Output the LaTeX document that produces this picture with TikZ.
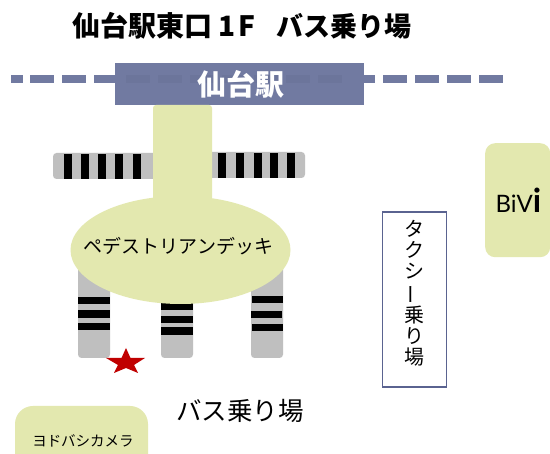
\documentclass[tikz,border=0pt]{standalone}
\usepackage{fontspec}
\usepackage{graphicx}
\setmainfont{Noto Sans CJK JP}
\newfontfamily\latinf{Lato}
\definecolor{deck}{HTML}{E3E8AF}
\definecolor{stn}{HTML}{717AA1}
\definecolor{walk}{HTML}{BFBFBF}
\definecolor{taxiline}{HTML}{5A6390}
\definecolor{starred}{HTML}{C00000}
\tikzset{
  deckfill/.style={fill=deck,draw=none},
  walkfill/.style={fill=walk,draw=none,rounded corners=3.5pt},
  stripe/.style={fill=black,draw=none},
  dashbar/.style={fill=stn,draw=none},
  jp/.style={inner sep=0pt,text=black}
}
\begin{document}
\begin{tikzpicture}[x=1pt,y=-1pt]
\useasboundingbox (0,0) rectangle (550,454);
\fill[white] (0,0) rectangle (550,454);
% rail dashes
\fill[dashbar] (11,75) rectangle (23,83);
\foreach \x in {30,62,94,351,383,415,447,479}{\fill[dashbar] (\x,75) rectangle (\x+24,83);}
% station
\node[fill=stn,minimum width=249pt,minimum height=42pt,inner sep=0pt,anchor=north west] (station) at (115,63) {};
\foreach \x in {126,158,190,222,254,286,318}{\fill[stn!96!black] (\x,75) rectangle (\x+24,83);}
\node[jp,text=white,font=\fontsize{29}{29}\selectfont\bfseries] (stationlabel) at (240.5,84) {仙台駅};
% crosswalks, upper
\fill[walkfill] (53,153) rectangle (160,179);
\foreach \x in {64,81,98,115,133}{\fill[stripe] (\x,154) rectangle (\x+8,179);}
\fill[walkfill] (205,152) rectangle (305,178);
\foreach \x in {218,236,254,270,287}{\fill[stripe] (\x,153) rectangle (\x+8,178);}
% crosswalks, lower
\fill[walkfill] (78,255) rectangle (110,358);
\fill[stripe] (78,297) rectangle (110,304);
\fill[stripe] (78,310) rectangle (110,318);
\fill[stripe] (78,323) rectangle (110,330);
\fill[walkfill] (161,285) rectangle (193,358);
\fill[stripe] (161,302) rectangle (193,310);
\fill[stripe] (161,316) rectangle (193,323);
\fill[stripe] (161,327) rectangle (193,335);
\fill[walkfill] (251,255) rectangle (283,358);
\fill[stripe] (252,296) rectangle (283,303);
\fill[stripe] (251,311) rectangle (282,318);
\fill[stripe] (252,324) rectangle (283,331);
% deck
\fill[deckfill,rounded corners=3pt] (153,105) rectangle (212,215);
\fill[deckfill] (180.5,250) ellipse [x radius=110,y radius=54];
\node[jp,font=\fontsize{19}{19}\selectfont] (decklabel) at (178.5,246) {ペデストリアンデッキ};
% star
\fill[starred] (126,348) -- (130.5,358) -- (145,358) -- (134,365) -- (138,373) -- (126,368) -- (114,373) -- (118,365) -- (106,358) -- (121.5,358) -- cycle;
% title
\node[jp,anchor=west,font=\fontsize{28}{28}\selectfont\bfseries] (title) at (72,26) {仙台駅東口\hspace{6pt}1\hspace{3pt}F\hspace{21pt}{\fontsize{27}{27}\selectfont バス乗り場}};
\node[jp,font=\fontsize{25.5}{25.5}\selectfont] (buslabel) at (240,411) {バス乗り場};
% Yodobashi
\fill[deckfill,rounded corners=18pt] (15,406) rectangle (148,480);
\node[jp,font=\fontsize{14.5}{14.5}\selectfont] (yodo) at (83,441) {ヨドバシカメラ};
% BiVi
\node[deckfill,rounded corners=10pt,minimum width=65pt,minimum height=114pt,inner sep=0pt,anchor=north west] (bivi) at (485,143) {};
\node[jp,font=\latinf,anchor=base west] (bivilabel) at (495.5,213) {\fontsize{24}{24}\selectfont BiV\fontsize{33}{33}\selectfont\bfseries i};
% taxi
\node[draw=taxiline,line width=1.8pt,minimum width=64pt,minimum height=175pt,inner sep=0pt,anchor=north west] (taxi) at (381.5,211.5) {};
\node[jp,align=center,font=\fontsize{20}{21}\selectfont] (taxilabel) at (414,293) {タ\\ク\\シ\\\rotatebox[origin=c]{90}{ー}\\乗\\り\\場};
\end{tikzpicture}
\end{document}
